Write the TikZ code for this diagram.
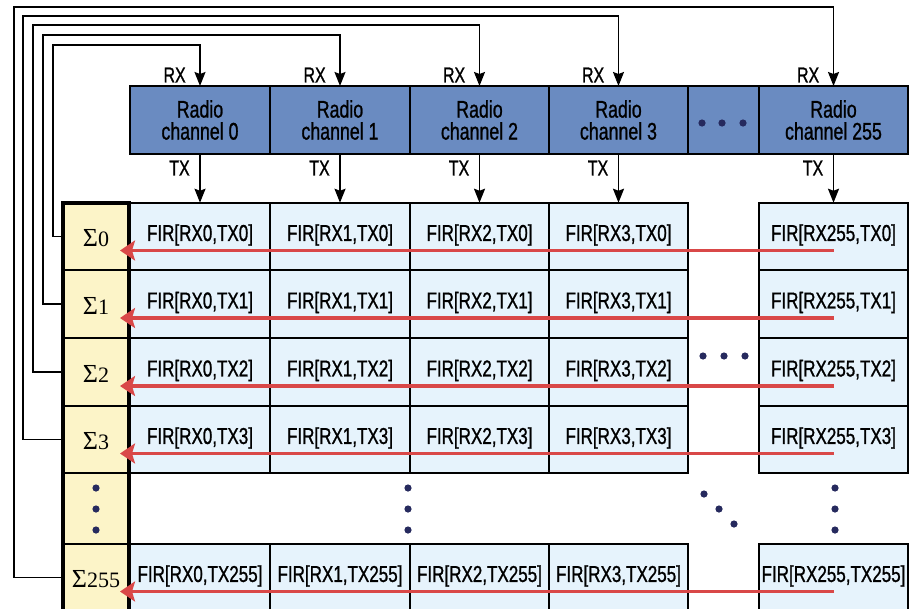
\documentclass[tikz,border=0pt]{standalone}
\usepackage{fontspec}
\setmainfont{Liberation Sans}[FakeStretch=0.74, FakeBold=1]
\newfontfamily\sumfont{Liberation Serif}
\usetikzlibrary{arrows.meta,calc,positioning}
\definecolor{RadioBlue}{HTML}{6A8BC1}
\definecolor{FirFill}{HTML}{E6F3FC}
\definecolor{SumFill}{HTML}{FCF4C8}
\definecolor{FlowRed}{HTML}{D94848}
\definecolor{DotInk}{HTML}{262A5E}
\tikzset{
  every node/.style={font=\fontsize{23}{22}\selectfont, text=black, outer sep=0pt},
  radio/.style={draw=black, line width=1.8pt, fill=RadioBlue, minimum height=68pt, inner sep=0pt, align=center, font=\fontsize{24}{22}\selectfont},
  portlabel/.style={anchor=east, font=\fontsize{21.5}{22}\selectfont},
  fircell/.style={draw=black, line width=1.8pt, fill=FirFill, minimum height=67.5pt, inner sep=0pt},
  sumcell/.style={draw=black, line width=1.8pt, fill=SumFill, minimum width=66pt, inner sep=0pt},
  sumtext/.style={font=\sumfont\fontsize{22}{23}\selectfont},
  port/.style={-{Stealth[length=14pt,width=11pt,inset=2pt]}, draw=black, line width=1.8pt},
  feedback/.style={-{Stealth[length=14pt,width=11pt,inset=2pt]}, draw=black, line width=1.6pt},
  accumulate/.style={-{Stealth[length=15pt,width=20pt,inset=3pt]}, draw=FlowRed, line width=3.6pt, shorten >=-9pt},
  dot/.style={fill=DotInk},
}
\begin{document}
\begin{tikzpicture}[x=1pt, y=-1pt]
  \useasboundingbox (0,0) rectangle (912,608);
  % Radio channels
  \foreach \c/\cx/\cw in {0/200/140, 1/340/140, 2/479.5/139, 3/618.5/139, 255/833.5/149} {
    \node[radio, minimum width=\cw pt] (ch\c) at (\cx,120) {Radio\\channel \c};
  }
  \node[radio, minimum width=71pt] (chd) at (723.5,120) {};
  \foreach \x in {702,722,743} {
    \fill[dot] (\x,123) circle [radius=3.6pt];
  }
  % FIR grid
  \foreach \c/\cx/\cw in {0/200/140, 1/340/140, 2/479.5/139, 3/618.5/139, 255/833.5/149} {
    \foreach \r/\ry in {0/236.5, 1/304, 2/372, 3/439.5, 255/577.5} {
      \node[fircell, minimum width=\cw pt] (f\c-\r) at (\cx,\ry) {};
      \node (t\c-\r) at ([yshift=1.5pt]f\c-\r.center) {FIR[RX\c,TX\r]};
    }
    \draw[port] (ch\c.south) -- (f\c-0.north);
    \node[portlabel] (tx\c) at ([xshift=-7pt, yshift=-14pt]ch\c.south) {TX};
    \node[portlabel] (rx\c) at ([xshift=-11pt, yshift=11pt]ch\c.north) {RX};
  }
  % Sums
  \foreach \r/\ry in {0/236.5, 1/304, 2/372, 3/439.5, 255/577.5} {
    \node[sumcell, minimum height=67.5pt] (s\r) at (96,\ry) {};
    \node[sumtext] (st\r) at ([yshift=-2pt]s\r.center) {{\fontsize{26}{26}\selectfont Σ}\r};
  }
  \node[sumcell, minimum height=71pt] (sd) at (96,508.5) {};
  \draw[line width=3.6pt] (s0.north west) rectangle (s255.south east);
  % Ellipses
  \foreach \y in {488,509,530} {
    \fill[dot] (96,\y) circle [radius=3.6pt];
    \fill[dot] (408,\y) circle [radius=3.6pt];
    \fill[dot] (835,\y) circle [radius=3.6pt];
  }
  \foreach \x/\y in {704/494, 719/509, 734/524} {
    \fill[dot] (\x,\y) circle [radius=3.6pt];
  }
  \foreach \x in {703,724,745} {
    \fill[dot] (\x,356) circle [radius=3.6pt];
  }
  % Feedback to RX
  \foreach \r/\lx/\ty in {0/53/45, 1/43/35, 2/33/25, 3/23/16, 255/14/7} {
    \draw[feedback] (s\r.west) -| (\lx,\ty) -| (ch\r.north);
  }
  % Row sums
  \foreach \r in {0,1,2,3,255} {
    \coordinate (src\r) at ($(f255-\r.center)+(0,14)$);
    \draw[accumulate] (src\r) -- (s\r.east |- src\r);
  }
\end{tikzpicture}
\end{document}
